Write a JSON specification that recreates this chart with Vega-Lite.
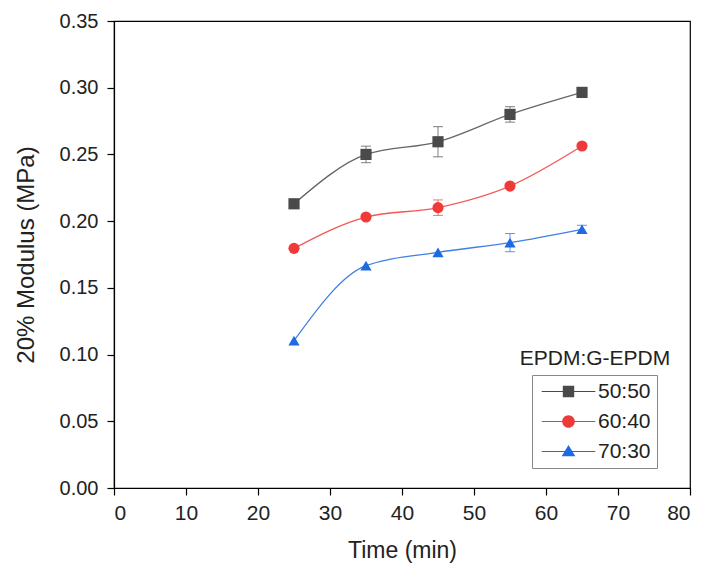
{
  "$schema": "https://vega.github.io/schema/vega-lite/v6.json",
  "autosize": {"type": "none"},
  "padding": {"left": 114, "top": 21, "right": 18, "bottom": 82},
  "width": 576,
  "height": 467,
  "background": "white",
  "config": {
    "view": {"stroke": "black", "strokeWidth": 1.2},
    "font": "Liberation Sans",
    "axis": {
      "domainColor": "black",
      "domainWidth": 1.2,
      "tickColor": "black",
      "tickWidth": 1.2,
      "grid": false,
      "labelFont": "Liberation Sans",
      "titleFont": "Liberation Sans",
      "labelColor": "#222",
      "titleColor": "#222",
      "labelFontSize": 20,
      "titleFontSize": 23,
      "titleFontWeight": "normal"
    },
    "legend": {
      "orient": "none",
      "legendX": 418,
      "legendY": 354,
      "strokeColor": "#888",
      "padding": 6,
      "labelFont": "Liberation Sans",
      "labelFontSize": 21,
      "labelColor": "#222",
      "symbolSize": 130,
      "symbolStrokeWidth": 0,
      "symbolOffset": 20,
      "labelOffset": 19,
      "rowPadding": 8
    }
  },
  "data": {
    "values": [
      {"series": "50:50", "time": 25, "mod": 0.213, "err": 0.0},
      {"series": "50:50", "time": 35, "mod": 0.250, "err": 0.0062},
      {"series": "50:50", "time": 45, "mod": 0.2595, "err": 0.0113},
      {"series": "50:50", "time": 55, "mod": 0.280, "err": 0.0058},
      {"series": "50:50", "time": 65, "mod": 0.2965, "err": 0.0},
      {"series": "60:40", "time": 25, "mod": 0.1796, "err": 0.0},
      {"series": "60:40", "time": 35, "mod": 0.2031, "err": 0.0},
      {"series": "60:40", "time": 45, "mod": 0.2101, "err": 0.0058},
      {"series": "60:40", "time": 55, "mod": 0.2263, "err": 0.0},
      {"series": "60:40", "time": 65, "mod": 0.2563, "err": 0.0},
      {"series": "70:30", "time": 25, "mod": 0.1104, "err": 0.0},
      {"series": "70:30", "time": 35, "mod": 0.1666, "err": 0.0},
      {"series": "70:30", "time": 45, "mod": 0.1766, "err": 0.0},
      {"series": "70:30", "time": 55, "mod": 0.1839, "err": 0.0068},
      {"series": "70:30", "time": 65, "mod": 0.1939, "err": 0.003}
    ]
  },
  "layer": [
    {
      "mark": {"type": "line", "interpolate": "monotone", "strokeWidth": 1.3, "opacity": 0.85},
      "encoding": {
        "x": {
          "field": "time", "type": "quantitative",
          "scale": {"domain": [0, 80], "nice": false, "zero": false},
          "axis": {
            "title": "Time (min)",
            "values": [0, 5, 10, 15, 20, 25, 30, 35, 40, 45, 50, 55, 60, 65, 70, 75, 80],
            "labelExpr": "datum.value % 10 === 0 ? datum.label : ''",
            "labelFontSize": 21,
            "tickSize": {"condition": {"test": "datum.value % 10 === 0", "value": 7}, "value": 4},
            "labelPadding": 7,
            "titlePadding": 16
          }
        },
        "y": {
          "field": "mod", "type": "quantitative",
          "title": "20% Modulus (MPa)",
          "scale": {"domain": [0, 0.35], "nice": false},
          "axis": {
            "title": "20% Modulus (MPa)",
            "values": [0, 0.025, 0.05, 0.075, 0.1, 0.125, 0.15, 0.175, 0.2, 0.225, 0.25, 0.275, 0.3, 0.325, 0.35],
            "format": ".2f",
            "labelExpr": "abs(datum.value*20 - round(datum.value*20)) < 0.001 ? datum.label : ''",
            "tickSize": {"condition": {"test": "abs(datum.value*20 - round(datum.value*20)) < 0.001", "value": 7}, "value": 4},
            "labelPadding": 9,
            "titleFontSize": 24,
            "titlePadding": 21
          }
        },
        "color": {
          "field": "series", "type": "nominal",
          "scale": {"domain": ["50:50", "60:40", "70:30"], "range": ["#4a4a4a", "#f03a3a", "#1e6ae0"]},
          "legend": null
        }
      }
    },
    {
      "transform": [{"filter": "datum.err > 0"}],
      "mark": {"type": "errorbar", "ticks": {"size": 10}, "thickness": 1, "opacity": 0.7},
      "encoding": {
        "x": {"field": "time", "type": "quantitative"},
        "y": {"field": "mod", "type": "quantitative", "title": "20% Modulus (MPa)"},
        "yError": {"field": "err"},
        "color": {
          "field": "series", "type": "nominal",
          "scale": {"domain": ["50:50", "60:40", "70:30"], "range": ["#4a4a4a", "#f03a3a", "#1e6ae0"]},
          "legend": null
        }
      }
    },
    {
      "mark": {"type": "point", "filled": true, "size": 125, "opacity": 1},
      "encoding": {
        "x": {"field": "time", "type": "quantitative"},
        "y": {"field": "mod", "type": "quantitative", "title": "20% Modulus (MPa)"},
        "color": {
          "field": "series", "type": "nominal",
          "scale": {"domain": ["50:50", "60:40", "70:30"], "range": ["#4a4a4a", "#f03a3a", "#1e6ae0"]},
          "legend": null
        },
        "shape": {
          "field": "series", "type": "nominal",
          "scale": {"domain": ["50:50", "60:40", "70:30"], "range": ["square", "circle", "triangle-up"]},
          "legend": null
        }
      }
    },
    {
      "transform": [{"filter": "datum.time < 0"}],
      "mark": {"type": "point", "filled": true, "size": 130, "opacity": 1},
      "encoding": {
        "x": {"field": "time", "type": "quantitative"},
        "y": {"field": "mod", "type": "quantitative", "title": "20% Modulus (MPa)"},
        "color": {
          "field": "series", "type": "nominal",
          "scale": {"domain": ["50:50", "60:40", "70:30"], "range": ["#4a4a4a", "#f03a3a", "#1e6ae0"]},
          "legend": {"title": null}
        },
        "shape": {
          "field": "series", "type": "nominal",
          "scale": {
            "domain": ["50:50", "60:40", "70:30"],
            "range": [
              "M-4.7,-0.1H4.7V0.1H-4.7Z M-1,-1H1V1H-1Z",
              "M-4.7,-0.1H4.7V0.1H-4.7Z M1.1,0A1.1,1.1,0,1,1,-1.1,0A1.1,1.1,0,1,1,1.1,0Z",
              "M-4.7,-0.1H4.7V0.1H-4.7Z M0,-1.15L1.2,0.85H-1.2Z"
            ]
          },
          "legend": {"title": null}
        }
      }
    },
    {
      "data": {"values": [{"time": 66.8, "mod": 0.0967, "label": "EPDM:G-EPDM"}]},
      "mark": {"type": "text", "fontSize": 21, "color": "#222", "align": "center", "baseline": "middle"},
      "encoding": {
        "x": {"field": "time", "type": "quantitative"},
        "y": {"field": "mod", "type": "quantitative", "title": "20% Modulus (MPa)"},
        "text": {"field": "label"}
      }
    }
  ],
  "resolve": {"scale": {"shape": "independent", "color": "independent"}}
}
